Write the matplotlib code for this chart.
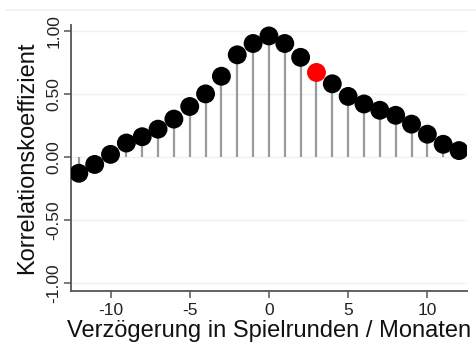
import matplotlib.pyplot as plt
from matplotlib.lines import Line2D

# lag (months / rounds) and correlation coefficients
lags = list(range(-12, 13))
corr = [-0.13, -0.06, 0.02, 0.11, 0.16, 0.22, 0.30, 0.40, 0.50, 0.64, 0.81, 0.90,
        0.96, 0.90, 0.79, 0.67, 0.58, 0.48, 0.42, 0.37, 0.33, 0.26, 0.18, 0.10, 0.05]
highlight_lag = 3

yticks = [-1.0, -0.5, 0.0, 0.5, 1.0]
ytick_labels = ["-1.00", "-0.50", "0.00", "0.50", "1.00"]
xticks = [-10, -5, 0, 5, 10]

plt.rcParams["font.family"] = ["Liberation Sans", "DejaVu Sans"]

fig = plt.figure(figsize=(4.76, 3.45), dpi=100)
ax = fig.add_axes([0.149, 0.157, 0.832, 0.771])

# faint outer frame line at the top
fig.add_artist(Line2D([0.015, 1.0], [0.971, 0.971], color="#eaf2f2", lw=1.2,
                      transform=fig.transFigure))

for y in yticks:
    ax.axhline(y, color="#f0f0f0", lw=1.0, zorder=0)

ax.vlines(lags, 0, corr, color="#9a9a9a", lw=1.6, zorder=1)
colors = ["red" if l == highlight_lag else "black" for l in lags]
ax.scatter(lags, corr, s=185, c=colors, zorder=3, linewidths=0)

ax.set_xlim(-12.5, 12.5)
ax.set_ylim(-1.063, 1.048)
ax.set_xticks(xticks)
ax.set_xticklabels([str(x) for x in xticks], fontsize=12.5)
ax.set_yticks(yticks)
ax.set_yticklabels(ytick_labels, fontsize=12.5, rotation=90, va="center")

for side in ["top", "right"]:
    ax.spines[side].set_visible(False)
for side in ["left", "bottom"]:
    ax.spines[side].set_color("#555555")
    ax.spines[side].set_linewidth(1.3)
ax.tick_params(axis="both", colors="#555555", length=5, width=1.1,
               labelcolor="#222222", pad=4)
ax.tick_params(axis="y", pad=2)

ax.set_xlabel("Verzögerung in Spielrunden / Monaten", fontsize=17, labelpad=1,
              color="#111111")
ax.set_ylabel("Korrelationskoeffizient", fontsize=17, labelpad=6, color="#111111")

fig.savefig("out.png", dpi=100, facecolor="white")
